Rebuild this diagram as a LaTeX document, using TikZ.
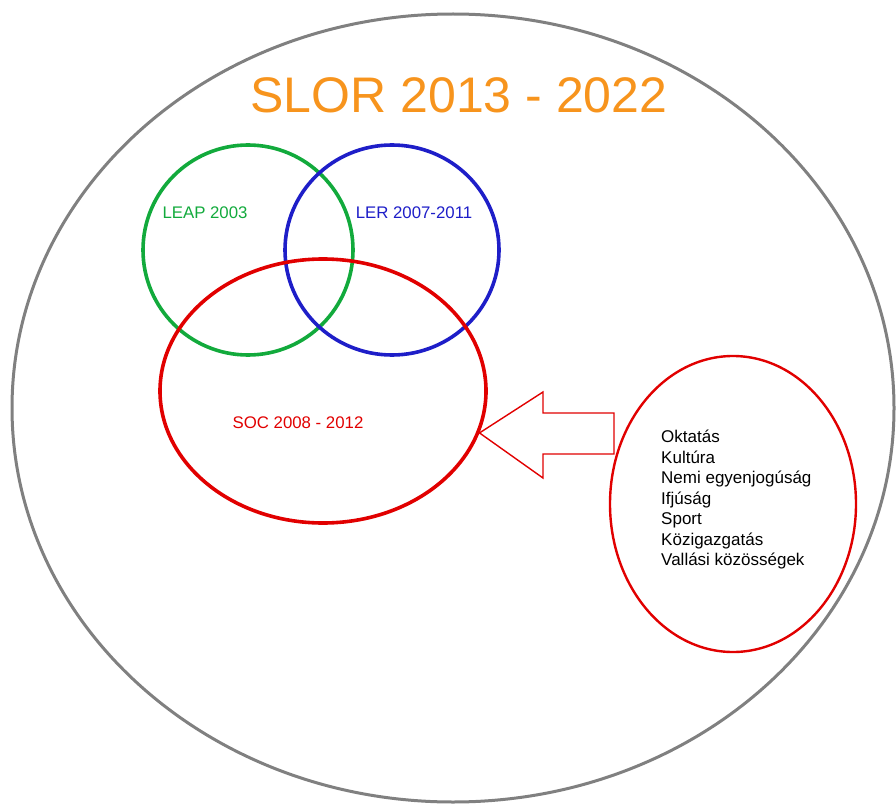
\documentclass[tikz,border=0pt]{standalone}
\usepackage{fontspec}
\setmainfont{Liberation Sans}
\usepackage{tikz}
\usetikzlibrary{positioning}
\usetikzlibrary{shapes.geometric}
\definecolor{slorgrey}{RGB}{128,128,128}
\definecolor{slororange}{RGB}{247,148,29}
\definecolor{leapgreen}{RGB}{18,170,60}
\definecolor{lerblue}{RGB}{30,30,200}
\definecolor{socred}{RGB}{225,0,0}

\begin{document}
\begin{tikzpicture}[x=1pt,y=-1pt,
  ring/.style={draw,ellipse,inner sep=0pt},
  lbl/.style={font=\fontsize{16.8}{20}\selectfont,anchor=base,inner sep=0pt}]
\useasboundingbox (0,0) rectangle (896,805);
% outer frame
\node[ring,draw=slorgrey,line width=3pt,minimum width=882pt,minimum height=788pt] (slor) at (453,408) {};
\node[lbl,text=slororange,font=\fontsize{50}{56}\selectfont] (title) at (459,113) {SLOR 2013 - 2022};
% venn
\node[ring,draw=leapgreen,line width=3.6pt,minimum width=210pt,minimum height=210pt] (leap) at (248,250) {};
\node[ring,draw=lerblue,line width=3.6pt,minimum width=214pt,minimum height=210pt] (ler) at (392,250) {};
\node[ring,draw=socred,line width=3.6pt,minimum width=326pt,minimum height=264pt] (soc) at (323,391) {};
\node[lbl,text=leapgreen] (leaplbl) at (205,218) {LEAP 2003};
\node[lbl,text=lerblue] (lerlbl) at (414,218) {LER 2007-2011};
\node[lbl,text=socred] (soclbl) at (298,428) {SOC 2008 - 2012};
% fields
\node[ring,draw=socred,line width=2.4pt,minimum width=246pt,minimum height=296pt] (fields) at (733,504) {};
\node[anchor=north west,align=left,inner sep=0pt,font=\fontsize{17}{20.5}\selectfont] (list) at (661,430)
{Oktatás\\Kultúra\\Nemi egyenjogúság\\Ifjúság\\Sport\\Közigazgatás\\Vallási közösségek};
% block arrow
\draw[socred,line width=1.4pt,line join=miter] (soc.-15) -- (543,392) -- (543,413) -- (614,413) -- (614,454) -- (543,454) -- (543,478) -- cycle;
\end{tikzpicture}
\end{document}
